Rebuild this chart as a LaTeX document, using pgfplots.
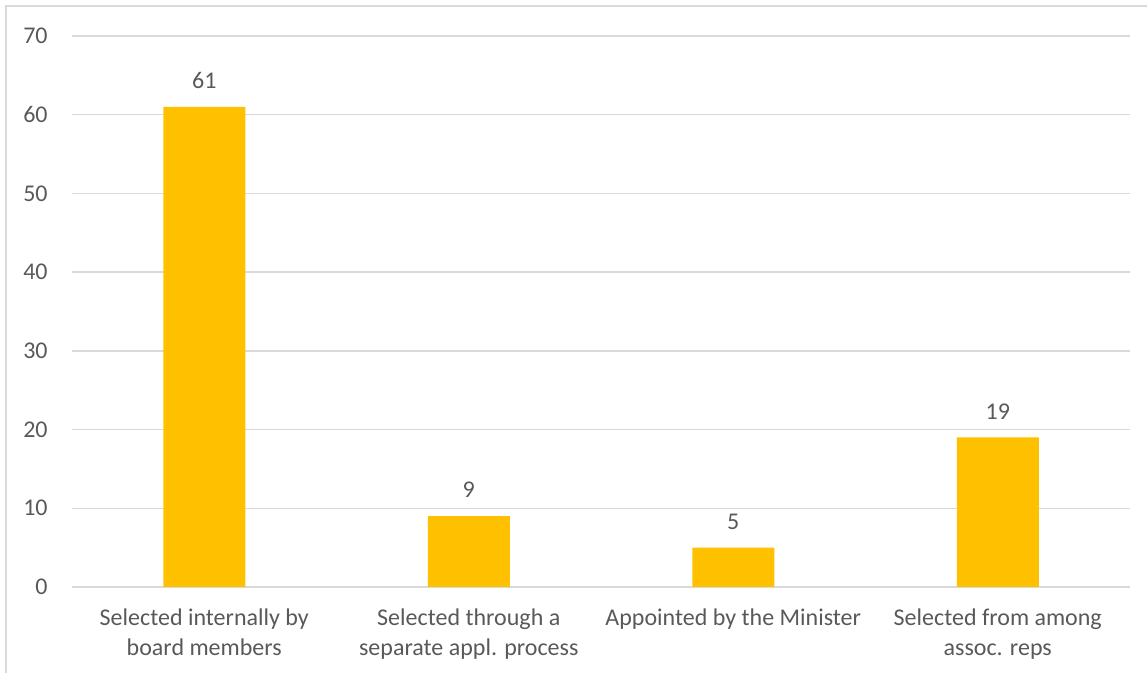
\documentclass[border=0pt]{standalone}
\usepackage{fontspec}
\setmainfont{Carlito}
\usepackage{pgfplots}
\pgfplotsset{compat=1.18}
\definecolor{barcol}{HTML}{FFC000}
\definecolor{gridcol}{HTML}{D9D9D9}
\definecolor{txtcol}{HTML}{595959}
\begin{document}
\begin{tikzpicture}[x=1pt,y=1pt]
\useasboundingbox (0,0) rectangle (573.5,336.5);
% chart frame
\draw[gridcol, line width=0.9pt] (3,-20) rectangle (600,333.5);
\begin{axis}[
  at={(36pt,43pt)}, anchor=south west,
  scale only axis, width=529pt, height=275.5pt,
  xmin=-0.5, xmax=3.5, ymin=0, ymax=70,
  ytick={0,10,...,70},
  xtick={0,1,2,3},
  xticklabels={{Selected internally by\\board members},{Selected through a\\separate appl. process},{Appointed by the Minister},{Selected from among\\assoc. reps}},
  ymajorgrids, grid style={gridcol, line width=0.75pt},
  axis line style={draw=none},
  major tick length=0pt, tick style={draw=none},
  /pgf/number format/assume math mode=true,
  tick label style={font=\fontsize{12}{15}\selectfont, text=txtcol, inner sep=0pt},
  yticklabel style={anchor=east, xshift=-12pt},
  xticklabel style={anchor=north, align=center, yshift=-10.5pt},
  ybar, bar width=41pt,
  nodes near coords,
  nodes near coords style={anchor=south, inner sep=0pt, yshift=9pt, font=\fontsize{12}{15}\selectfont, text=txtcol},
]
\addplot[fill=barcol, draw=none] coordinates {(0,61) (1,9) (2,5) (3,19)};
\end{axis}
\end{tikzpicture}
\end{document}
